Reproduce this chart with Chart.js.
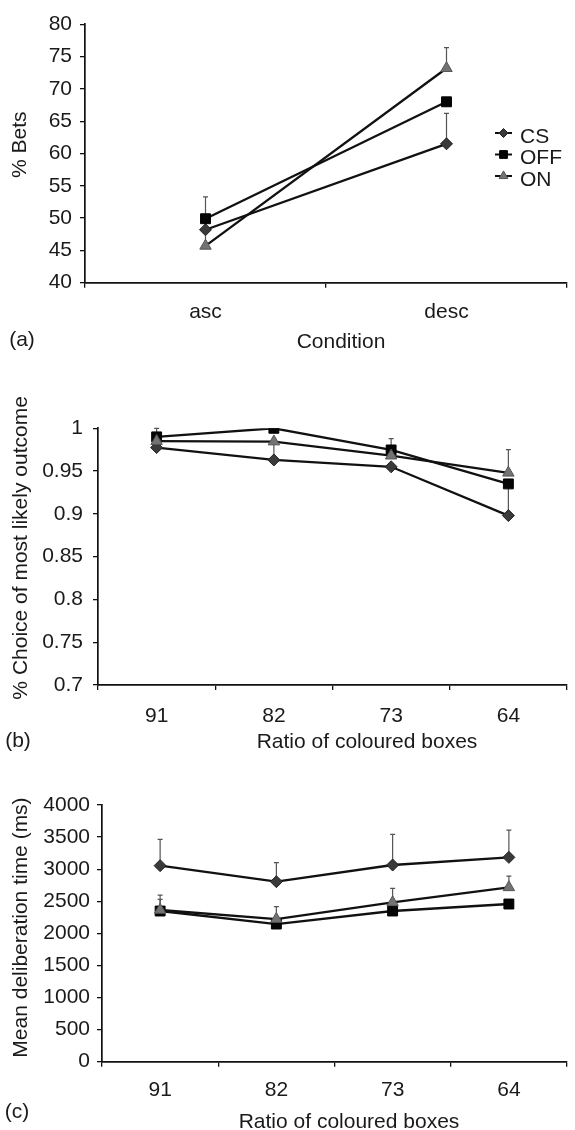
<!DOCTYPE html>
<html>
<head>
<meta charset="utf-8">
<script src="https://cdn.jsdelivr.net/npm/chart.js@4.4.1/dist/chart.umd.min.js"></script>
<style>
    body { margin: 0; background: #fff; }
    #page { position: relative; width: 575px; height: 1130px; overflow: hidden;
            font-family: "Liberation Sans", Arial, sans-serif; color: #1a1a1a; }
    canvas { position: absolute; left: 0; }
    .lbl { position: absolute; font-size: 20px; line-height: 1; white-space: nowrap;
           transform: translate(-50%, -50%); }
</style>
</head>
<body>
<div id="page">
    <canvas id="cnvBets" width="575" height="330" style="top:0px"></canvas>
    <canvas id="cnvChoice" width="575" height="370" style="top:365px"></canvas>
    <canvas id="cnvTime" width="575" height="365" style="top:745px"></canvas>

    <div class="lbl" style="left:22px;top:338px;font-size:21px">(a)</div>
    <div class="lbl" style="left:341px;top:340px;font-size:21px">Condition</div>
    <div class="lbl" style="left:18px;top:739px;font-size:21px">(b)</div>
    <div class="lbl" style="left:367px;top:740px;font-size:21px">Ratio of coloured boxes</div>
    <div class="lbl" style="left:17px;top:1110px;font-size:21px">(c)</div>
    <div class="lbl" style="left:349px;top:1120px;font-size:21px">Ratio of coloured boxes</div>
</div>
<script>
/**
 * DATA
 */
const seriesNames = ['CS', 'OFF', 'ON'];

// (a) % bets per condition
const conditions = ['asc', 'desc'];
const betsCS = [48.2, 61.5];
const betsOFF = [49.9, 68.0];
const betsON = [45.7, 73.2];
const betsErrCS = [null, 66.2];
const betsErrOFF = [null, null];
const betsErrON = [53.3, 76.4];
const betsTicks = [40, 45, 50, 55, 60, 65, 70, 75, 80];
const betsTickLabels = ['40', '45', '50', '55', '60', '65', '70', '75', '80'];

// (b) choice of most likely outcome per ratio
const ratios = ['91', '82', '73', '64'];
const choiceCS = [0.9775, 0.963, 0.955, 0.898];
const choiceOFF = [0.990, 1.0, 0.9747, 0.935];
const choiceON = [0.985, 0.9845, 0.968, 0.948];
const choiceErrCS = [null, 0.983, null, 0.935];
const choiceErrOFF = [null, null, 0.988, null];
const choiceErrON = [1.0, null, null, 0.975];
const choiceTicks = [0.7, 0.75, 0.8, 0.85, 0.9, 0.95, 1];
const choiceTickLabels = ['0.7', '0.75', '0.8', '0.85', '0.9', '0.95', '1'];

// (c) mean deliberation time per ratio
const timeCS = [3055, 2805, 3065, 3184];
const timeOFF = [2348, 2145, 2348, 2457];
const timeON = [2364, 2223, 2483, 2717];
const timeErrCS = [3465, 3101, 3543, 3610];
const timeErrOFF = [2530, null, null, null];
const timeErrON = [2597, 2416, 2701, 2893];
const timeTicks = [0, 500, 1000, 1500, 2000, 2500, 3000, 3500, 4000];
const timeTickLabels = ['0', '500', '1000', '1500', '2000', '2500', '3000', '3500', '4000'];

/**
 * STYLES
 */
const INK = '#1a1a1a';
const FONT = '"Liberation Sans", Arial, sans-serif';
const markerStyles = [
    { pointStyle: 'rectRot', radius: 6, bg: '#3a3a3a', border: '#222' },
    { pointStyle: 'rect', radius: 7, bg: '#050505', border: '#000' },
    { pointStyle: 'triangle', radius: 6.6, bg: '#737373', border: '#555' }
];

Chart.defaults.font.family = FONT;
Chart.defaults.font.size = 21;
Chart.defaults.color = INK;

/**
 * plugin: upward error bars drawn below the markers
 */
const errorBars = {
    id: 'errorBars',
    beforeDatasetsDraw(chart) {
        let ctx = chart.ctx;
        let yScale = chart.scales.y;
        ctx.save();
        ctx.strokeStyle = '#555';
        ctx.lineWidth = 1.2;
        chart.data.datasets.forEach((ds, i) => {
            let meta = chart.getDatasetMeta(i);
            (ds.errTop || []).forEach((top, j) => {
                if (top == null) return;
                let pt = meta.data[j];
                let yTop = yScale.getPixelForValue(top);
                ctx.beginPath();
                ctx.moveTo(pt.x, pt.y);
                ctx.lineTo(pt.x, yTop);
                ctx.moveTo(pt.x - 2.5, yTop);
                ctx.lineTo(pt.x + 2.5, yTop);
                ctx.stroke();
            });
        });
        ctx.restore();
    }
};

/**
 * plugin: small legend with line + marker + name, right of the chart
 */
const sideLegend = {
    id: 'sideLegend',
    afterDraw(chart, args, opts) {
        if (!opts.show) return;
        let ctx = chart.ctx;
        ctx.save();
        chart.data.datasets.forEach((ds, i) => {
            let y = opts.y + i * opts.gap;
            ctx.strokeStyle = '#111';
            ctx.lineWidth = 2;
            ctx.beginPath();
            ctx.moveTo(opts.x, y);
            ctx.lineTo(opts.x + opts.len, y);
            ctx.stroke();

            ctx.fillStyle = ds.pointBackgroundColor;
            ctx.strokeStyle = ds.pointBorderColor;
            ctx.lineWidth = 1;
            Chart.helpers.drawPoint(ctx, {
                pointStyle: ds.pointStyle,
                radius: ds.pointRadius - 1.5,
                borderWidth: 1,
                rotation: 0
            }, opts.x + opts.len / 2, y);

            ctx.fillStyle = INK;
            ctx.font = '21px ' + FONT;
            ctx.textBaseline = 'middle';
            ctx.textAlign = 'left';
            ctx.fillText(ds.label, opts.x + opts.len + 8, y + 4);
        });
        ctx.restore();
    }
};

function MakeDatasets(valueSets, errSets) {
    return valueSets.map((values, i) => ({
        label: seriesNames[i],
        data: values,
        errTop: errSets[i],
        borderColor: '#111',
        borderWidth: 2.3,
        tension: 0,
        fill: false,
        order: 2 - i,
        pointStyle: markerStyles[i].pointStyle,
        pointRadius: markerStyles[i].radius,
        pointBackgroundColor: markerStyles[i].bg,
        pointBorderColor: markerStyles[i].border,
        pointBorderWidth: 1
    }));
}

/**
 * builds one panel
 */
function MakeChart(canvasId, labels, datasets, ticks, tickLabels, yTitle, box, legend) {
    let canvas = document.querySelector('#' + canvasId);
    return new Chart(canvas, {
        type: 'line',
        data: { labels: labels, datasets: datasets },
        plugins: [errorBars, sideLegend],
        options: {
            responsive: false,
            animation: false,
            events: [],
            layout: { padding: { top: box.top, right: 1, left: 0, bottom: 0 } },
            plugins: {
                legend: { display: false },
                tooltip: { enabled: false },
                sideLegend: legend || { show: false }
            },
            scales: {
                x: {
                    type: 'category',
                    offset: true,
                    afterFit(scale) { scale.height = box.axisHeight; },
                    grid: { offset: true, drawOnChartArea: false, drawTicks: true,
                            tickLength: 5, color: '#111', lineWidth: 1.3 },
                    border: { color: '#111', width: 1.7 },
                    ticks: { padding: box.xTickPad, maxRotation: 0, autoSkip: false }
                },
                y: {
                    min: ticks[0],
                    max: ticks[ticks.length - 1],
                    afterFit(scale) { scale.width = box.axisWidth; },
                    afterBuildTicks(scale) { scale.ticks = ticks.map(v => ({ value: v })); },
                    grid: { drawOnChartArea: false, drawTicks: true, tickLength: 5,
                            color: '#111', lineWidth: 1.3 },
                    border: { color: '#111', width: 1.7 },
                    ticks: {
                        padding: box.yTickPad,
                        callback: (value, index) => tickLabels[index]
                    },
                    title: {
                        display: true,
                        // leading spaces nudge the centred title upward like the original
                        text: box.titleShift + yTitle,
                        font: { size: box.titleSize },
                        padding: { top: box.titlePad, bottom: 0 }
                    }
                }
            }
        }
    });
}

MakeChart('cnvBets', conditions,
    MakeDatasets([betsCS, betsOFF, betsON], [betsErrCS, betsErrOFF, betsErrON]),
    betsTicks, betsTickLabels, '% Bets',
    { top: 24.3, axisHeight: 47.3, axisWidth: 85, xTickPad: 12, yTickPad: 8,
      titleSize: 21, titlePad: 8, titleShift: '\u00a0\u00a0\u00a0' },
    { show: true, x: 495, y: 133, gap: 21.5, len: 17 });

MakeChart('cnvChoice', ratios,
    MakeDatasets([choiceCS, choiceOFF, choiceON], [choiceErrCS, choiceErrOFF, choiceErrON]),
    choiceTicks, choiceTickLabels, '% Choice of most likely outcome',
    { top: 63.3, axisHeight: 50, axisWidth: 98, xTickPad: 14, yTickPad: 10,
      titleSize: 21, titlePad: 9, titleShift: '\u00a0\u00a0\u00a0' });

MakeChart('cnvTime', ratios,
    MakeDatasets([timeCS, timeOFF, timeON], [timeErrCS, timeErrOFF, timeErrON]),
    timeTicks, timeTickLabels, 'Mean deliberation time (ms)',
    { top: 60, axisHeight: 48.3, axisWidth: 102, xTickPad: 11, yTickPad: 7,
      titleSize: 21, titlePad: 9, titleShift: '\u00a0\u00a0' });
</script>
</body>
</html>
